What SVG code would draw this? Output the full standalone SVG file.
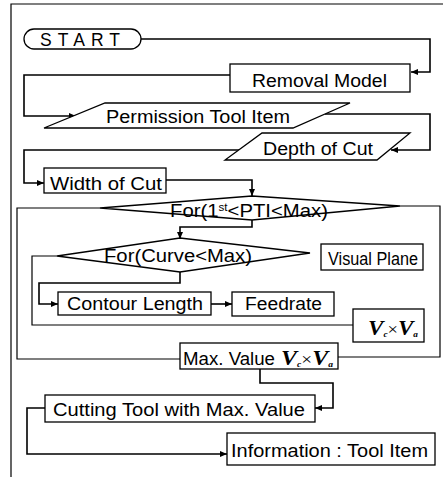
<svg xmlns="http://www.w3.org/2000/svg" width="443" height="477" viewBox="0 0 443 477">
<style>
.box{fill:#fff;stroke:#000;stroke-width:1.3}
.ln{fill:none;stroke:#000;stroke-width:1.6}
.lp{fill:none;stroke:#000;stroke-width:1.2}
.t{font-family:"Liberation Sans",Arial,sans-serif;font-size:17.5px;fill:#000}
.v{font-family:"Liberation Serif","Times New Roman",serif;font-style:italic;font-weight:bold;font-size:20px;fill:#000}
.sub{font-size:8px}
.x{font-style:normal;font-weight:normal;font-size:16px}
</style>
<defs>
<marker id="ah" markerUnits="userSpaceOnUse" markerWidth="8" markerHeight="8" refX="7" refY="4" orient="auto">
<path d="M0,1 L7,4 L0,7 Z" fill="#000"/>
</marker>
</defs>
<rect width="443" height="477" fill="#fff"/>
<path class="lp" d="M11,477 V4 H443"/>
<g id="connectors">
<path class="ln" d="M141,39 H430 V72 H411" marker-end="url(#ah)"/>
<path class="ln" d="M230,75 H24 V116 H76" marker-end="url(#ah)"/>
<path class="ln" d="M325,114 H430 V150 H391" marker-end="url(#ah)"/>
<path class="ln" d="M240,150 H24 V183 H44" marker-end="url(#ah)"/>
<path class="ln" d="M166,180 H252 V196" marker-end="url(#ah)"/>
<path class="ln" d="M252,220 V227 H180 V239" marker-end="url(#ah)"/>
<path class="ln" d="M180,272 V283 H39 V304 H58" marker-end="url(#ah)"/>
<path class="ln" d="M211,304 H232" marker-end="url(#ah)"/>
<path class="ln" d="M260,369 V383 H333 V408 H315" marker-end="url(#ah)"/>
<path class="ln" d="M45,408 H27 V454 H227" marker-end="url(#ah)"/>
<path class="lp" d="M100,208 H17 V359 H180"/>
<path class="lp" d="M400,206 H440 V357 H338"/>
<path class="lp" d="M57,256 H32 V325 H353"/>
</g>
<g id="start">
<rect class="box" x="24" y="29" width="117" height="20" rx="10"/>
<text class="t" x="40" y="46" font-size="18.5" textLength="80" lengthAdjust="spacing">START</text>
</g>
<g id="removal">
<rect class="box" x="230" y="64" width="180" height="28"/>
<text class="t" x="252" y="87" textLength="135" lengthAdjust="spacingAndGlyphs">Removal Model</text>
</g>
<g id="permission">
<polygon class="box" points="105,103 350,103 293,128 44,128"/>
<text class="t" x="106" y="123" textLength="184" lengthAdjust="spacingAndGlyphs">Permission Tool Item</text>
</g>
<g id="depth">
<polygon class="box" points="262,133 410,133 377,160 225,160"/>
<text class="t" x="263" y="155" textLength="110" lengthAdjust="spacingAndGlyphs">Depth of Cut</text>
</g>
<g id="width">
<rect class="box" x="44" y="168" width="122" height="25"/>
<text class="t" x="50" y="190" textLength="112" lengthAdjust="spacingAndGlyphs">Width of Cut</text>
</g>
<g id="for-pti">
<polygon class="box" points="100,208 252,196 400,206 252,220"/>
<text class="t" x="170" y="217" textLength="158" lengthAdjust="spacingAndGlyphs">For(1<tspan font-size="10" dy="-6">st</tspan><tspan dy="6">&lt;PTI&lt;Max)</tspan></text>
</g>
<g id="for-curve">
<polygon class="box" points="57,256 180,238 310,253 180,272"/>
<text class="t" x="104" y="262" textLength="148" lengthAdjust="spacingAndGlyphs">For(Curve&lt;Max)</text>
</g>
<g id="visual-plane">
<rect class="box" x="321" y="244" width="102" height="26"/>
<text class="t" x="328" y="265" font-size="13" textLength="90" lengthAdjust="spacingAndGlyphs">Visual Plane</text>
</g>
<g id="contour">
<rect class="box" x="58" y="292" width="153" height="23"/>
<text class="t" x="67" y="310" textLength="136" lengthAdjust="spacingAndGlyphs">Contour Length</text>
</g>
<g id="feedrate">
<rect class="box" x="232" y="292" width="102" height="24"/>
<text class="t" x="245" y="310" textLength="77" lengthAdjust="spacingAndGlyphs">Feedrate</text>
</g>
<g id="vcva">
<rect class="box" x="353" y="309" width="71" height="33"/>
<text class="v" x="368" y="335" textLength="50" lengthAdjust="spacingAndGlyphs">V<tspan class="sub" dy="2">c</tspan><tspan class="x" dy="-2">×</tspan>V<tspan class="sub" dy="2">a</tspan></text>
</g>
<g id="max-value">
<rect class="box" x="180" y="343" width="158" height="26"/>
<text class="t" x="183" y="365" textLength="92" lengthAdjust="spacingAndGlyphs">Max. Value</text>
<text class="v" x="281" y="365" textLength="52" lengthAdjust="spacingAndGlyphs">V<tspan class="sub" dy="2">c</tspan><tspan class="x" dy="-2">×</tspan>V<tspan class="sub" dy="2">a</tspan></text>
</g>
<g id="cutting-tool">
<rect class="box" x="45" y="395" width="270" height="27"/>
<text class="t" x="53" y="416" textLength="252" lengthAdjust="spacingAndGlyphs">Cutting Tool with Max. Value</text>
</g>
<g id="information">
<rect class="box" x="227" y="433" width="208" height="32"/>
<text class="t" x="231" y="457" textLength="197" lengthAdjust="spacingAndGlyphs">Information : Tool Item</text>
</g>
</svg>
